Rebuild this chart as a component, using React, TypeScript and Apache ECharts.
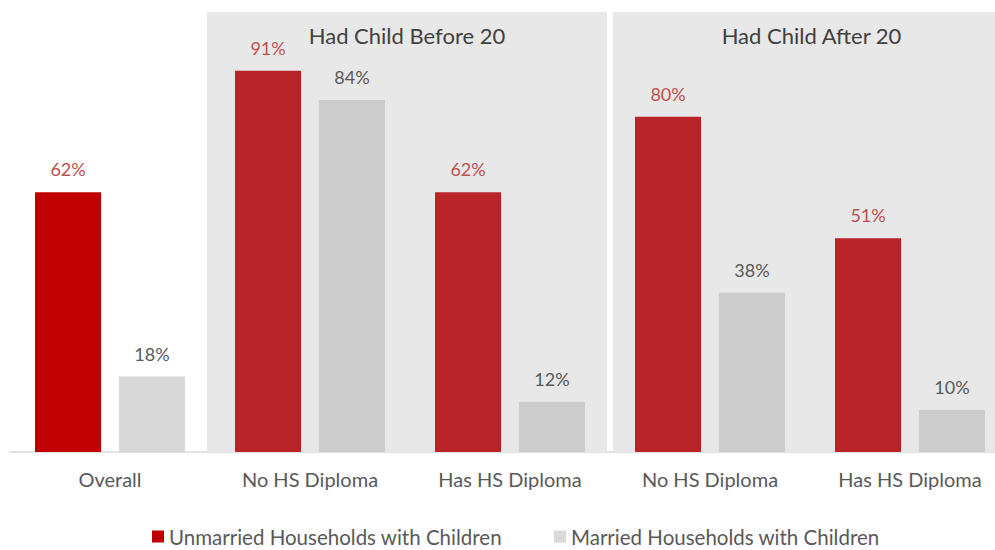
import React, { useEffect, useRef } from "react";
import * as echarts from "echarts";

const categories = ["Overall", "No HS Diploma", "Has HS Diploma", "No HS Diploma", "Has HS Diploma"];
const unmarried = [62, 91, 62, 80, 51];
const married = [18, 84, 12, 38, 10];
const seriesNames = ["Unmarried Households with Children", "Married Households with Children"];
const groupTitles = ["Had Child Before 20", "Had Child After 20"];
// panel spans in category units (category index i spans [i, i+1])
const groupSpans = [
  [0.985, 2.985],
  [3.015, 5],
];

const FONT = "Lato, 'Open Sans', sans-serif";

export default function App() {
  const ref = useRef<HTMLDivElement>(null);
  useEffect(() => {
    document.body.style.margin = "0";
    document.body.style.overflow = "hidden";
    const chart = echarts.init(ref.current!, null, { renderer: "svg" });
    const redMain = "#b92428";
    const redFirst = "#c00000";
    const grayMain = "#cccccc";
    const grayFirst = "#d9d9d9";
    chart.setOption({
      animation: false,
      textStyle: { fontFamily: FONT },
      grid: { left: 10, right: 0, top: 12, height: 440, containLabel: false },
      legend: {
        left: 147,
        top: 521,
        itemWidth: 12,
        itemHeight: 12,
        itemGap: 52,
        icon: "rect",
        textStyle: { fontSize: 20.5, color: "#595959", fontFamily: FONT },
        data: [
          { name: seriesNames[0], itemStyle: { color: redFirst } },
          { name: seriesNames[1], itemStyle: { color: grayFirst } },
        ],
      },
      xAxis: [
        {
          type: "category",
          data: categories,
          axisLine: { show: true, lineStyle: { color: "#d9d9d9", width: 1.5 } },
          axisTick: { show: false },
          axisLabel: { color: "#595959", fontSize: 20, margin: 17, fontFamily: FONT, interval: 0 },
        },
        { type: "value", min: 0, max: 5, show: false },
      ],
      yAxis: { type: "value", min: 0, max: 105, show: false, splitLine: { show: false } },
      series: [
        {
          name: "panels",
          type: "line",
          xAxisIndex: 1,
          data: [],
          z: 0,
          silent: true,
          markArea: {
            silent: true,
            itemStyle: { color: "#e8e8e8" },
            label: {
              show: true,
              position: "insideTop",
              distance: 12,
              fontSize: 22,
              color: "#404040",
              fontFamily: FONT,
            },
            data: groupSpans.map((s, i) => [
              { name: groupTitles[i], xAxis: s[0], yAxis: 0 },
              { xAxis: s[1], yAxis: 105 },
            ]),
          },
        },
        {
          name: seriesNames[0],
          type: "bar",
          z: 2,
          barCategoryGap: "25%",
          barGap: "27%",
          data: unmarried.map((v, i) => ({
            value: v,
            itemStyle: { color: i === 0 ? redFirst : redMain },
          })),
          label: {
            show: true,
            position: "top",
            distance: 14,
            formatter: "{c}%",
            fontSize: 18,
            color: "#c0504d",
            fontFamily: FONT,
          },
        },
        {
          name: seriesNames[1],
          type: "bar",
          z: 2,
          barCategoryGap: "25%",
          barGap: "27%",
          data: married.map((v, i) => ({
            value: v,
            itemStyle: { color: i === 0 ? grayFirst : grayMain },
          })),
          label: {
            show: true,
            position: "top",
            distance: 14,
            formatter: "{c}%",
            fontSize: 18,
            color: "#595959",
            fontFamily: FONT,
          },
        },
      ],
    });
    return () => chart.dispose();
  }, []);
  return (
    <div style={{ width: 995, height: 550, overflow: "hidden" }}>
      <div ref={ref} style={{ width: 1010, height: 550 }} />
    </div>
  );
}
